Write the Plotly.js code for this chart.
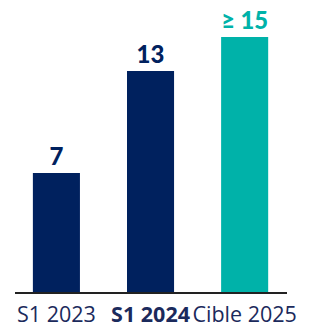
<!DOCTYPE html>
<html>
<head>
<meta charset="utf-8">
<script src="https://cdn.plot.ly/plotly-3.0.1.min.js"></script>
<style>html,body{margin:0;padding:0;background:#fff;}#chart{width:310px;height:323px;}</style>
</head>
<body>
<div id="chart"></div>
<script>
var categories = ["S1 2023", "<b>S1 2024</b>", "Cible 2025"];
var values = [7, 13, 15];
var valueLabels = ["7", "13", "≥ 15"];
var barColors = ["#00215E", "#00215E", "#00B2A9"];
var labelColors = ["#00215E", "#00215E", "#00B2A9"];

var trace = {
  type: "bar",
  x: categories,
  y: values,
  marker: {color: barColors},
  width: 0.5,
  text: valueLabels,
  textposition: "outside",
  cliponaxis: false,
  textfont: {family: "Lato, 'Open Sans', sans-serif", size: 24, color: labelColors, weight: 900},
  hoverinfo: "none"
};

var layout = {
  width: 310, height: 323,
  margin: {l: 15, r: 23, t: 37, b: 31},
  paper_bgcolor: "#fff", plot_bgcolor: "#fff",
  showlegend: false,
  bargap: 0.5,
  xaxis: {
    type: "category",
    range: [-0.44, 2.45],
    showline: true, linecolor: "#222", linewidth: 1.5,
    ticks: "", showgrid: false, zeroline: false,
    tickfont: {family: "'Open Sans', Lato, sans-serif", size: 21.5, color: "#1B2A5C"},
    ticklabelstandoff: 3,
    fixedrange: true
  },
  yaxis: {
    range: [0, 15],
    visible: false, showgrid: false, zeroline: false,
    fixedrange: true
  }
};

Plotly.newPlot("chart", [trace], layout, {displayModeBar: false, staticPlot: true});
</script>
</body>
</html>
